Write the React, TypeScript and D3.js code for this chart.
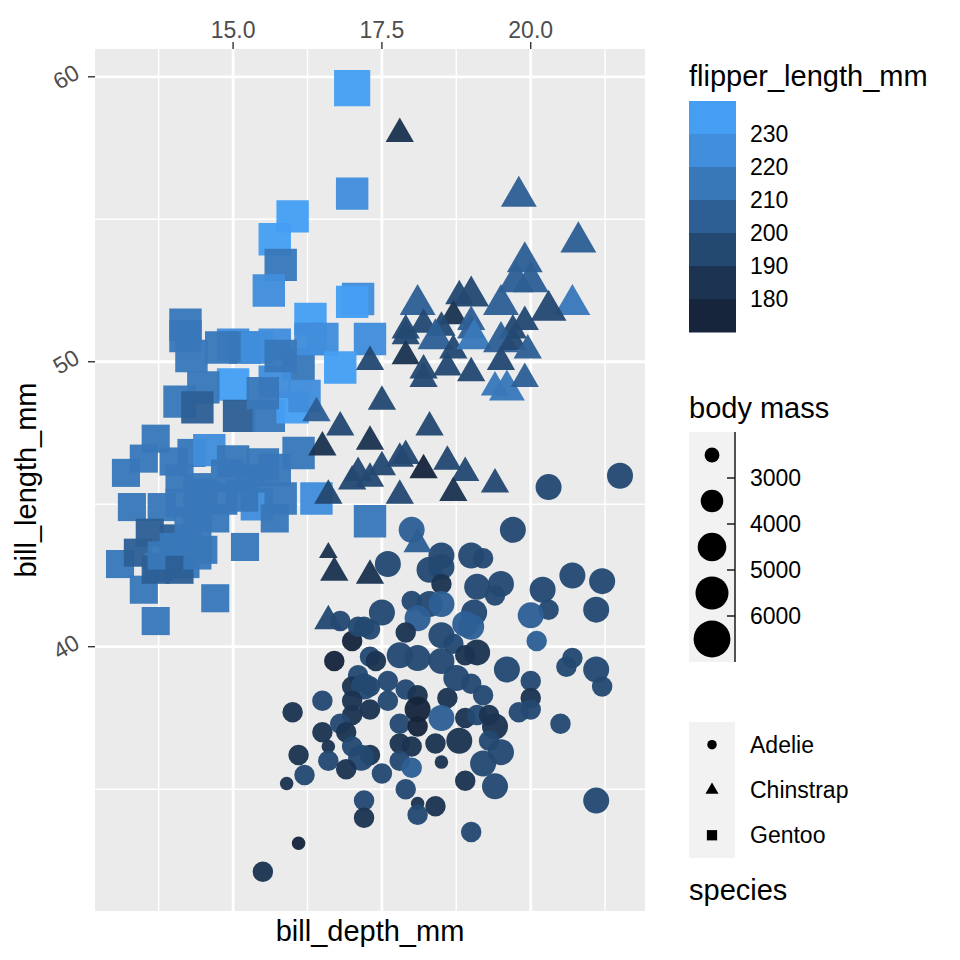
import React from "react";
import * as d3 from "d3";

// [bill_depth_mm, bill_length_mm, flipper_length_mm, body_mass_g]
const adelie: number[][] = [
  [20.3, 45.6, 191, 4600], [21.5, 46.0, 194, 4200], [18.0, 44.1, 205, 4000], [19.7, 44.1, 196, 4400],
  [17.6, 42.9, 197, 4400], [18.5, 43.2, 197, 4300], [19.0, 43.2, 197, 4700], [19.2, 43.1, 197, 3500],
  [18.3, 42.7, 196, 4100], [18.5, 42.8, 190, 4200], [18.5, 42.2, 180, 3550], [19.1, 42.1, 195, 4000],
  [19.5, 42.2, 197, 4275], [19.4, 41.8, 193, 3600], [18.0, 41.6, 192, 3950], [18.3, 41.5, 195, 4300],
  [18.5, 41.5, 201, 4200], [20.2, 42.0, 190, 4250], [20.7, 42.5, 197, 4725], [21.2, 42.3, 196, 4050],
  [21.1, 41.3, 195, 4400], [20.3, 41.3, 194, 3550], [20.0, 41.1, 205, 4300], [17.5, 41.2, 191, 4000],
  [19.05, 41.2, 191, 4250], [18.1, 41.0, 203, 4300], [18.9, 40.8, 203, 4000], [19.0, 40.7, 201, 4200],
  [17.2, 40.7, 190, 3600], [17.9, 40.5, 187, 3200], [18.5, 40.4, 196, 4200], [20.1, 40.2, 203, 3800],
  [17.3, 39.65, 190, 3300], [17.4, 39.5, 187, 3475], [17.8, 39.7, 193, 4250], [18.1, 39.6, 193, 4000],
  [18.5, 39.5, 195, 4150], [18.7, 40.1, 193, 3700], [18.9, 39.7, 185, 3700], [19.1, 39.8, 184, 4300],
  [19.6, 39.2, 196, 4675], [20.0, 38.8, 190, 3950], [20.0, 38.2, 185, 3800], [20.0, 37.8, 190, 3700],
  [19.8, 37.7, 198, 3500], [20.7, 39.6, 191, 3900], [20.6, 39.3, 190, 3650], [21.1, 39.2, 196, 4150],
  [21.2, 38.6, 191, 3800], [20.5, 37.3, 199, 3775], [17.3, 38.6, 190, 3500], [17.6, 38.8, 191, 3275],
  [17.9, 38.5, 190, 3600], [18.1, 38.3, 188, 3600], [18.6, 38.2, 185, 3950], [18.75, 38.9, 195, 4000],
  [19.0, 38.7, 190, 3800], [19.2, 38.3, 193, 3900], [17.3, 37.8, 180, 3700], [17.6, 38.1, 190, 3500],
  [18.1, 37.8, 178, 4000], [18.5, 37.5, 200, 4100], [18.9, 37.5, 181, 3400], [19.1, 37.6, 190, 3550],
  [19.3, 37.6, 187, 3500], [19.4, 37.2, 185, 4200], [17.8, 37.3, 190, 3600], [18.1, 37.2, 178, 3900],
  [17.8, 36.6, 187, 3400], [18.0, 36.5, 181, 3400], [18.4, 36.6, 187, 3600], [18.8, 36.7, 187, 4000],
  [19.3, 36.7, 193, 3450], [19.5, 36.3, 196, 4300], [19.2, 35.9, 190, 4250], [18.5, 35.95, 187, 2850],
  [17.8, 36.0, 195, 3600], [18.0, 35.75, 203, 3700], [17.3, 36.2, 189, 3600], [17.5, 35.55, 190, 3500],
  [18.9, 35.3, 187, 3800], [19.4, 35.1, 193, 4200], [17.9, 35.0, 190, 3450], [17.2, 34.6, 195, 3600],
  [17.2, 34.0, 185, 3400], [18.1, 34.5, 187, 2900], [18.4, 34.4, 184, 3325], [18.1, 34.1, 193, 3475],
  [19.0, 33.5, 190, 3600], [21.1, 34.6, 198, 4400], [16.7, 39.5, 178, 3250], [16.0, 37.7, 183, 3075],
  [16.5, 38.1, 198, 3950], [16.5, 37.0, 186, 3600], [16.6, 36.5, 180, 2900], [16.1, 36.2, 188, 3600],
  [16.2, 35.5, 199, 3550], [15.9, 35.2, 183, 2900], [16.6, 36.0, 190, 3350], [16.1, 33.1, 178, 2900],
  [15.5, 32.1, 186, 3050], [17.1, 39.0, 190, 3525], [17.0, 38.6, 187, 3450], [17.2, 38.6, 198, 4000],
  [17.0, 38.1, 181, 3650], [17.0, 37.6, 184, 3800], [16.8, 37.3, 196, 3550], [16.9, 37.0, 185, 3325],
  [17.0, 36.5, 195, 3800], [17.15, 36.1, 190, 4000], [16.9, 35.7, 187, 3300], [17.0, 40.2, 178, 3900],
  [16.8, 40.9, 190, 3700], [17.1, 40.7, 196, 3900], [17.3, 40.6, 193, 3750],
];

const gentoo: number[][] = [
  [17.0, 59.6, 230, 6050], [17.0, 55.9, 228, 5600], [16.0, 55.1, 230, 5850], [15.7, 54.3, 231, 5650],
  [15.8, 53.4, 219, 5500], [15.6, 52.5, 221, 5450], [14.2, 51.3, 218, 5300], [17.1, 52.2, 228, 5400],
  [17.0, 52.1, 230, 5550], [16.3, 51.5, 230, 5500], [17.3, 50.8, 228, 5600], [14.2, 50.9, 216, 5200],
  [14.3, 50.2, 218, 5700], [15.0, 50.6, 220, 5300], [15.2, 50.5, 215, 5000], [15.7, 50.6, 222, 5550],
  [16.1, 49.9, 212, 5400], [16.3, 50.8, 225, 5400], [16.5, 50.8, 228, 5600], [16.8, 49.8, 230, 5700],
  [15.0, 49.2, 230, 5500], [14.5, 49.1, 213, 5000], [14.1, 48.6, 216, 5100], [14.4, 48.4, 203, 5400],
  [15.1, 48.1, 209, 5100], [15.6, 48.1, 215, 5300], [16.0, 48.4, 230, 5500], [16.2, 48.8, 220, 5500],
  [15.7, 49.3, 228, 5600], [15.5, 48.9, 212, 5300], [13.7, 47.3, 216, 4900], [14.3, 46.8, 215, 4850],
  [14.6, 46.9, 222, 5300], [15.0, 46.5, 213, 5200], [15.5, 46.4, 215, 5400], [16.1, 46.8, 215, 5500],
  [13.2, 46.1, 211, 4500], [13.5, 46.6, 210, 4800], [14.1, 45.9, 215, 4900], [14.5, 45.4, 212, 4750],
  [14.8, 45.2, 212, 5100], [15.4, 45.0, 220, 5050], [15.8, 45.2, 215, 5300], [16.4, 45.2, 223, 5950],
  [13.3, 44.9, 212, 4750], [13.8, 44.9, 213, 4750], [14.4, 44.7, 214, 4850], [14.7, 44.5, 212, 4800],
  [15.7, 44.5, 217, 4875], [13.6, 44.0, 208, 4350], [14.0, 43.8, 209, 4400], [14.4, 43.4, 215, 4600],
  [15.2, 43.5, 213, 4650], [17.3, 44.4, 219, 5250], [13.1, 42.9, 215, 4750], [13.4, 43.3, 209, 4400],
  [13.75, 42.8, 211, 4700], [14.2, 42.9, 210, 4700], [14.5, 43.4, 212, 4600], [13.5, 42.0, 210, 4150],
  [13.7, 42.7, 208, 4550], [14.7, 41.7, 210, 4700], [13.7, 40.9, 214, 4650], [14.8, 50.5, 217, 5300],
  [15.4, 50.5, 222, 5350], [15.8, 50.2, 210, 5200], [14.0, 46.5, 214, 4850], [14.9, 46.0, 215, 5000],
  [15.3, 45.9, 216, 4950], [15.7, 46.2, 219, 5200], [14.4, 45.6, 212, 4900], [15.15, 45.3, 216, 5000],
  [14.1, 45.05, 213, 4850], [14.25, 44.4, 211, 4650], [14.4, 44.1, 214, 4600], [14.0, 43.5, 212, 4450],
  [13.8, 43.2, 215, 4600], [14.1, 42.7, 208, 4400], [14.4, 43.2, 213, 4550],
];

const chinstrap: number[][] = [
  [17.8, 58.0, 181, 3700], [19.8, 55.8, 207, 4000], [20.8, 54.2, 201, 4300], [19.9, 53.5, 205, 4500],
  [19.75, 52.8, 203, 4100], [20.0, 52.8, 205, 4550], [20.7, 52.0, 210, 4800], [18.1, 52.0, 201, 4400],
  [18.8, 52.3, 195, 3900], [19.0, 52.3, 199, 4300], [19.5, 52.0, 205, 4150], [20.3, 51.8, 192, 4100],
  [18.7, 51.6, 187, 3300], [19.9, 51.4, 198, 3950], [19.0, 51.4, 201, 3950], [18.2, 51.3, 197, 3750],
  [17.9, 51.1, 195, 3650], [18.5, 51.2, 193, 3750], [19.0, 51.1, 205, 3750], [19.7, 51.1, 198, 3800],
  [17.9, 50.9, 196, 3700], [18.4, 50.8, 201, 4100], [18.7, 50.4, 198, 3700], [19.05, 50.8, 210, 4100],
  [19.5, 50.7, 203, 4050], [19.7, 50.7, 196, 3800], [19.95, 50.4, 203, 3500], [17.3, 50.0, 196, 3800],
  [17.9, 50.2, 187, 3775], [18.2, 49.7, 195, 3600], [18.2, 49.4, 198, 3800], [18.6, 49.8, 198, 3675],
  [19.0, 49.6, 198, 3775], [19.5, 50.0, 196, 3900], [19.4, 49.1, 211, 3950], [19.6, 49.0, 212, 4000],
  [19.9, 49.4, 201, 3800], [17.5, 48.6, 195, 3450], [18.3, 47.7, 199, 3700], [17.3, 47.2, 187, 3450],
  [17.8, 46.6, 193, 3800], [17.9, 46.7, 195, 3300], [17.5, 46.3, 193, 3500], [18.2, 46.2, 178, 3250],
  [18.6, 46.5, 192, 3500], [18.9, 46.1, 195, 3650], [17.3, 45.9, 190, 3575], [17.8, 45.3, 198, 3650],
  [18.7, 45.4, 188, 3525], [19.4, 45.7, 195, 3650], [18.1, 43.6, 202, 3400], [16.4, 48.2, 200, 3575],
  [16.8, 47.7, 195, 3650], [16.5, 47.0, 187, 3400], [17.1, 46.1, 190, 3450], [17.0, 45.8, 195, 3650],
  [16.6, 45.3, 195, 3650], [16.6, 43.3, 187, 2900], [16.7, 42.6, 187, 3250], [17.3, 42.5, 187, 3400],
  [16.6, 40.9, 190, 3200],
];

const speciesNames = ["Adelie", "Chinstrap", "Gentoo"];
const xTicks = [15, 17.5, 20];
const yTicks = [40, 50, 60];
const flipperBreaks = [180, 190, 200, 210, 220, 230];
const massBreaks = [3000, 4000, 5000, 6000];

// colour steps, low -> high, as in the reference colourbar
const palette = ["#16253C", "#1C3452", "#234971", "#2D5F95", "#3878B9", "#418EDC", "#459EF2"];

const W = 960;
const panel = { left: 95, right: 645, top: 49, bottom: 911 };
const FONT = "Arial, 'Liberation Sans', Helvetica, sans-serif";

const shapeOf: Record<string, d3.SymbolType> = {
  Adelie: d3.symbolCircle,
  Chinstrap: d3.symbolTriangle,
  Gentoo: d3.symbolSquare,
};

// area for a symbol whose base size is s px (circle diameter)
const symbolArea = (name: string, s: number) => {
  if (name === "Adelie") return (Math.PI * s * s) / 4;
  if (name === "Gentoo") return (1.08 * s) ** 2;
  const t = 1.38 * s;
  return (Math.sqrt(3) / 4) * t * t;
};

const App = () => {
  const all = [...adelie, ...gentoo, ...chinstrap];
  const dExt = d3.extent(all, (d) => d[0]) as [number, number];
  const lExt = d3.extent(all, (d) => d[1]) as [number, number];
  const dPad = (dExt[1] - dExt[0]) * 0.05;
  const lPad = (lExt[1] - lExt[0]) * 0.05;

  const x = d3.scaleLinear().domain([dExt[0] - dPad, dExt[1] + dPad]).range([panel.left, panel.right]);
  const y = d3.scaleLinear().domain([lExt[0] - lPad, lExt[1] + lPad]).range([panel.bottom, panel.top]);

  const color = d3.scaleThreshold<number, string>().domain(flipperBreaks).range(palette);
  const size = d3.scaleThreshold<number, number>().domain(massBreaks).range([13.5, 20.5, 26, 30, 33.5]);

  const xStep = xTicks[1] - xTicks[0];
  const yStep = yTicks[1] - yTicks[0];
  const xMinor = d3.range(xTicks[0] - xStep / 2, x.domain()[1], xStep).filter((v) => v > x.domain()[0]);
  const yMinor = d3.range(yTicks[0] - yStep / 2, y.domain()[1], yStep).filter((v) => v > y.domain()[0]);

  const sym = d3.symbol();
  const groups: [string, number[][]][] = [
    ["Adelie", adelie],
    ["Gentoo", gentoo],
    ["Chinstrap", chinstrap],
  ];

  // legends
  const lx = 689;
  const keyW = 46;
  const cbTop = 101;
  const cbH = 33;
  const sizeTop = 432;
  const sizeKeyH = 46;
  const spTop = 722;
  const spKeyH = 45.3;

  return (
    <svg width={W} height={W} style={{ position: "absolute", left: 0, top: 0, background: "white" }} fontFamily={FONT}>
      <rect x={panel.left} y={panel.top} width={panel.right - panel.left} height={panel.bottom - panel.top} fill="#EBEBEB" />
      {xMinor.map((v) => (
        <line key={"xm" + v} x1={x(v)} x2={x(v)} y1={panel.top} y2={panel.bottom} stroke="white" strokeWidth={1.4} />
      ))}
      {yMinor.map((v) => (
        <line key={"ym" + v} y1={y(v)} y2={y(v)} x1={panel.left} x2={panel.right} stroke="white" strokeWidth={1.4} />
      ))}
      {xTicks.map((v) => (
        <line key={"xg" + v} x1={x(v)} x2={x(v)} y1={panel.top} y2={panel.bottom} stroke="white" strokeWidth={2.8} />
      ))}
      {yTicks.map((v) => (
        <line key={"yg" + v} y1={y(v)} y2={y(v)} x1={panel.left} x2={panel.right} stroke="white" strokeWidth={2.8} />
      ))}

      {groups.map(([name, rows]) =>
        rows.map((d, i) => (
          <path
            key={name + i}
            d={sym.type(shapeOf[name]).size(symbolArea(name, size(d[3])))() as string}
            transform={`translate(${x(d[0])},${y(d[1])})`}
            fill={color(d[2])}
            fillOpacity={0.96}
          />
        ))
      )}

      {/* top x axis */}
      {xTicks.map((v) => (
        <g key={"xt" + v}>
          <line x1={x(v)} x2={x(v)} y1={panel.top - 7} y2={panel.top} stroke="#333333" strokeWidth={1.4} />
          <text x={x(v)} y={panel.top - 11} textAnchor="middle" fontSize={23} fill="#4D4D4D">
            {d3.format(".1f")(v)}
          </text>
        </g>
      ))}
      {/* left y axis */}
      {yTicks.map((v) => (
        <g key={"yt" + v}>
          <line x1={panel.left - 7} x2={panel.left} y1={y(v)} y2={y(v)} stroke="#333333" strokeWidth={1.4} />
          <text
            transform={`translate(${panel.left - 29},${y(v)}) rotate(-30)`}
            textAnchor="middle"
            dy="0.35em"
            fontSize={23}
            fill="#4D4D4D"
          >
            {v}
          </text>
        </g>
      ))}
      <text x={(panel.left + panel.right) / 2} y={941} textAnchor="middle" fontSize={29}>
        bill_depth_mm
      </text>
      <text transform={`translate(36,${(panel.top + panel.bottom) / 2}) rotate(-90)`} textAnchor="middle" fontSize={29}>
        bill_length_mm
      </text>

      {/* colour legend */}
      <text x={lx} y={86} fontSize={29}>flipper_length_mm</text>
      {palette
        .slice()
        .reverse()
        .map((c, i) => (
          <rect key={"cb" + i} x={lx} y={cbTop + i * cbH} width={47} height={cbH + 0.5} fill={c} />
        ))}
      {flipperBreaks
        .slice()
        .reverse()
        .map((b, i) => (
          <text key={"cbl" + b} x={750} y={cbTop + (i + 1) * cbH} dy="0.35em" fontSize={23}>
            {b}
          </text>
        ))}

      {/* size legend */}
      <text x={lx} y={418} fontSize={29}>body mass</text>
      <rect x={lx} y={sizeTop} width={keyW} height={sizeKeyH * 5} fill="#F2F2F2" />
      {size.range().map((s, i) => (
        <circle key={"sk" + i} cx={lx + 23} cy={sizeTop + sizeKeyH * (i + 0.5)} r={(s * 1.1) / 2} fill="black" />
      ))}
      <line x1={lx + keyW} x2={lx + keyW} y1={sizeTop} y2={sizeTop + sizeKeyH * 5} stroke="#1A1A1A" strokeWidth={1.5} />
      {massBreaks.map((b, i) => (
        <g key={"sl" + b}>
          <line
            x1={lx + keyW - 8}
            x2={lx + keyW}
            y1={sizeTop + sizeKeyH * (i + 1)}
            y2={sizeTop + sizeKeyH * (i + 1)}
            stroke="#1A1A1A"
            strokeWidth={1.5}
          />
          <text x={750} y={sizeTop + sizeKeyH * (i + 1)} dy="0.35em" fontSize={23}>
            {b}
          </text>
        </g>
      ))}

      {/* species legend */}
      <rect x={lx} y={spTop} width={keyW} height={spKeyH * 3} fill="#F2F2F2" />
      {speciesNames.map((n, i) => (
        <g key={"sp" + n}>
          <path
            d={sym.type(shapeOf[n]).size(symbolArea(n, 9.5))() as string}
            transform={`translate(${lx + 23},${spTop + spKeyH * (i + 0.5)})`}
            fill="black"
          />
          <text x={750} y={spTop + spKeyH * (i + 0.5)} dy="0.35em" fontSize={23}>
            {n}
          </text>
        </g>
      ))}
      <text x={lx} y={900} fontSize={29}>species</text>
    </svg>
  );
};

export default App;
